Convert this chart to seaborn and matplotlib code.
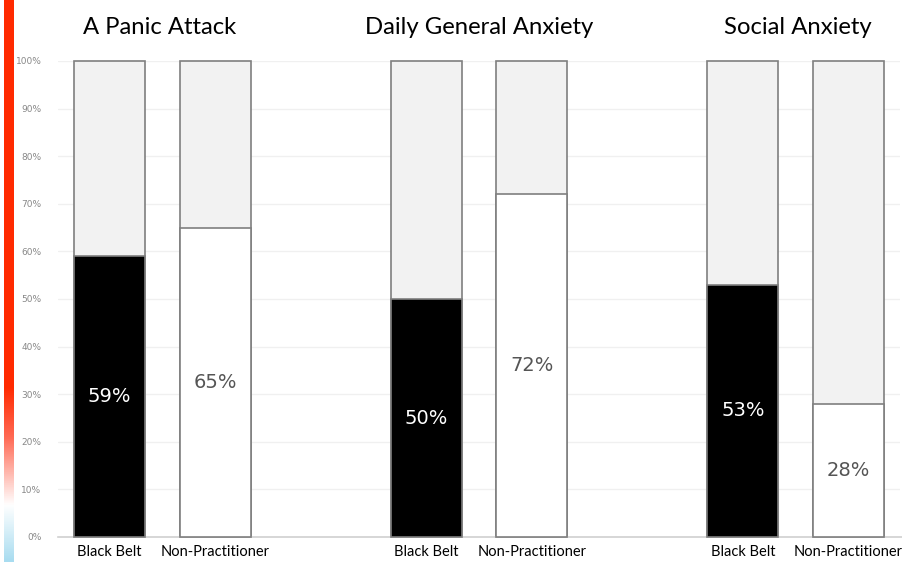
import numpy as np
import pandas as pd
import matplotlib
matplotlib.use("Agg")
import matplotlib.pyplot as plt
from matplotlib.colors import LinearSegmentedColormap
import seaborn as sns

# Survey results: share reporting each experience, by group
panels = ["A Panic Attack", "Daily General Anxiety", "Social Anxiety"]
groups = ["Black Belt", "Non-Practitioner"]
black_belt = [59, 50, 53]
non_practitioner = [65, 72, 28]
y_ticks = [0, 10, 20, 30, 40, 50, 60, 70, 80, 90, 100]

sns.set_theme(style="white")
plt.rcParams["font.family"] = ["DejaVu Sans"]

# Bars sit in pairs with a blank slot between panels
positions = []
labels = []
values = []
for i, (bb, npv) in enumerate(zip(black_belt, non_practitioner)):
    positions += [3 * i, 3 * i + 1]
    labels += groups
    values += [bb, npv]
df = pd.DataFrame({"pos": positions, "group": labels, "value": np.array(values) / 100.0})
df["full"] = 1.0

fig = plt.figure(figsize=(9.03, 5.62), dpi=100)
ax = fig.add_axes([58 / 903, 25 / 562, 842 / 903, 476 / 562])

bar_w = 0.67
edge = "#7f7f7f"
# Background track for the full 100%
sns.barplot(data=df, x="pos", y="full", native_scale=True, width=bar_w,
            color="#f2f2f2", edgecolor=edge, linewidth=1.2, ax=ax,
            errorbar=None, zorder=2)
# Filled part for the measured share
sns.barplot(data=df, x="pos", y="value", hue="group", native_scale=True,
            width=bar_w, dodge=False,
            palette={"Black Belt": "black", "Non-Practitioner": "white"},
            edgecolor=edge, linewidth=1.2, ax=ax, errorbar=None,
            legend=False, zorder=3)
for p in ax.patches:
    p.set_clip_on(False)

# Percent labels at the middle of each filled bar
for pos, grp, val in zip(df["pos"], df["group"], df["value"]):
    col = "white" if grp == "Black Belt" else "#555555"
    ax.text(pos, val / 2, f"{int(round(val * 100))}%", ha="center", va="center",
            fontsize=14, color=col, zorder=5)

# Panel titles
title_x = [0.47, 3.5, 6.52]
for x, title in zip(title_x, panels):
    ax.text(x, 1.07, title, ha="center", va="center",
            fontsize=17.2, family=["Lato", "DejaVu Sans"], color="black",
            transform=ax.transData, clip_on=False)

ax.set_xlim(-0.49, 7.49)
ax.set_ylim(0, 1.0)
ax.set_xticks(positions)
ax.set_xticklabels(labels, fontsize=10.5, family=["Lato", "DejaVu Sans"],
                   color="black")
ax.set_yticks([t / 100 for t in y_ticks])
ax.set_yticklabels([f"{t}%" for t in y_ticks], fontsize=6.5, color="#888888")
ax.tick_params(axis="y", length=0, pad=12)
ax.tick_params(axis="x", length=0, pad=6)
ax.set_xlabel("")
ax.set_ylabel("")
ax.grid(axis="y", color="#f0f0f0", linewidth=1, zorder=0)
ax.set_axisbelow(True)
for s in ["top", "right", "left"]:
    ax.spines[s].set_visible(False)
ax.spines["bottom"].set_color("#d0d0d0")
ax.spines["bottom"].set_linewidth(1.2)
ax.spines["bottom"].set_bounds(-0.49, 7.6)
ax.spines["bottom"].set_clip_on(False)

# Vertical colour strip along the left edge
cmap = LinearSegmentedColormap.from_list(
    "strip", [(0.0, "#ff2a00"), (0.69, "#ff2a00"), (0.78, "#ff6a55"),
              (0.90, "#ffffff"), (1.0, "#a8dcf0")])
sax = fig.add_axes([4 / 903, 0, 10 / 903, 1])
grad = np.linspace(0, 1, 256).reshape(-1, 1)
sax.imshow(grad, aspect="auto", cmap=cmap, origin="upper")
sax.axis("off")

fig.savefig("out.png", dpi=100)
